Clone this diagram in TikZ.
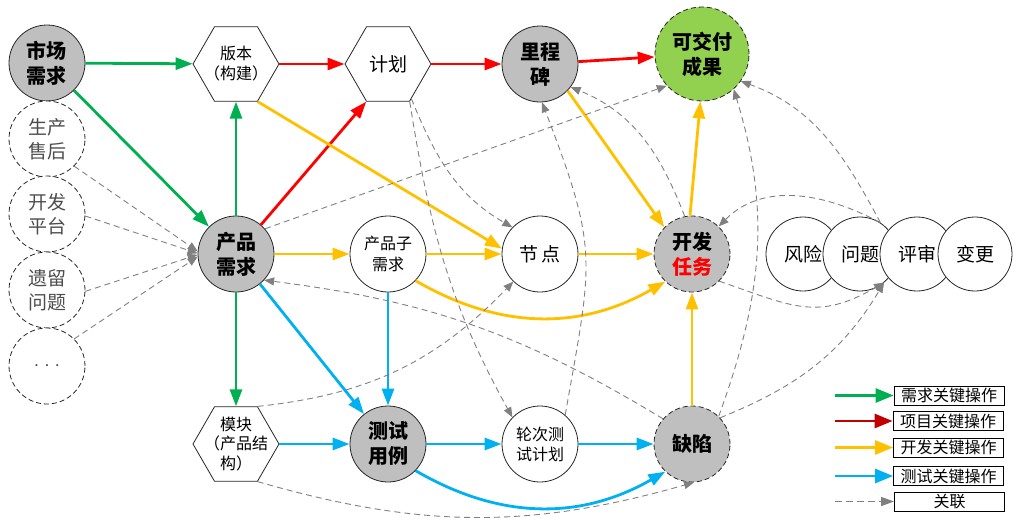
\documentclass[tikz,border=0pt]{standalone}
\usepackage{fontspec}
\setmainfont{Noto Sans CJK SC}
\usetikzlibrary{arrows.meta,shapes.geometric}
\definecolor{ngray}{HTML}{BFBFBF}
\definecolor{ngreen}{HTML}{92D050}
\definecolor{cG}{HTML}{00B050}
\definecolor{cR}{HTML}{FF0000}
\definecolor{cRd}{HTML}{C00000}
\definecolor{cY}{HTML}{FFC000}
\definecolor{cB}{HTML}{00B0F0}
\definecolor{cK}{HTML}{808080}
\definecolor{txtg}{HTML}{4D4D4D}
\begin{document}
\begin{tikzpicture}[x=1pt,y=1pt,
 base/.style={circle,minimum size=76pt,inner sep=0pt,align=center,draw=black!85,line width=0.8pt},
 gnode/.style={base,fill=ngray,font=\fontsize{20}{25}\selectfont\bfseries},
 wnode/.style={base,fill=white,font=\fontsize{19}{24}\selectfont},
 dnode/.style={base,fill=white,dash pattern=on 5pt off 3pt,text=txtg,font=\fontsize{19}{24}\selectfont},
 dashb/.style={dash pattern=on 5pt off 3pt},
 hexnode/.style={regular polygon,regular polygon sides=6,minimum size=86pt,inner sep=0pt,draw=black!85,line width=0.8pt,fill=white},
 key/.style={line width=2.8pt,-{Triangle[length=17pt,width=12pt]}},
 rel/.style={draw=cK,line width=0.9pt,dash pattern=on 6pt off 4pt,-{Triangle[length=10pt,width=8pt]}},
 legbox/.style={draw,line width=0.8pt,minimum width=110pt,minimum height=19pt,inner sep=0pt,font=\fontsize{16}{18}\selectfont},
]
\useasboundingbox (0,0) rectangle (1036,-525);

% left column
\node[gnode] (sc) at (47,-63) {市场\\需求};
\node[dnode] (ss) at (47,-139) {生产\\售后};
\node[dnode] (kp) at (47,-214) {开发\\平台};
\node[dnode] (yl) at (47,-290) {遗留\\问题};
\node[dnode] (dd) at (47,-366) {\fontsize{16}{18}\selectfont .\hspace{6pt}.\hspace{6pt}.};

% top row
\node[hexnode,label={[align=center,font=\fontsize{16}{20}\selectfont]center:版本\\（构建）}] (bb) at (236,-64) {};
\node[hexnode,label={[font=\fontsize{19}{24}\selectfont]center:计划}] (jh) at (388,-64) {};
\node[gnode] (lc) at (540,-64) {里程\\碑};
\node[gnode,fill=ngreen,minimum size=94pt,dashb] (kj) at (702,-54) {可交付\\成果};

% middle row
\node[gnode] (cp) at (236,-254) {产品\\需求};
\node[wnode,font=\fontsize{16}{21}\selectfont] (zx) at (388,-254) {产品子\\需求};
\node[wnode] (jd) at (540,-254) {节\hspace{3pt}点};
\node[gnode,dashb] (kf) at (692,-254) {开发\\\textcolor{cR}{任务}};
\node[wnode,minimum size=74pt] (fx) at (803,-254) {风险};
\node[wnode,minimum size=74pt] (wt) at (860,-254) {问题};
\node[wnode,minimum size=74pt] (ps) at (917,-254) {评审};
\node[wnode,minimum size=74pt] (bg) at (975,-254) {变更};

% bottom row
\node[hexnode,label={[align=center,font=\fontsize{16}{19.5}\selectfont]center:模块\\（产品结\\构）}] (mk) at (236,-444) {};
\node[gnode] (cs) at (388,-444) {测试\\用例};
\node[wnode,font=\fontsize{16}{20}\selectfont] (lt) at (540,-444) {轮次测\\试计划};
\node[gnode,dashb] (qx) at (692,-444) {缺陷};

% green
\draw[key,cG] (sc) -- (bb);
\draw[key,cG] (sc) -- (cp);
\draw[key,cG] (cp) -- (bb);
\draw[key,cG] (cp) -- (mk);
% red
\draw[key,cR] (bb) -- (jh);
\draw[key,cR] (jh) -- (lc);
\draw[key,cR] (lc) -- (kj);
\draw[key,cR] (cp) -- (jh.240);
% yellow
\draw[key,cY] (bb.300) -- (jd.172);
\draw[key,cY] (cp) -- (zx);
\draw[key,cY] (zx) -- (jd);
\draw[key,cY] (jd) -- (kf);
\draw[key,cY] (zx.-44) to[bend right=30] (kf.-134);
\draw[key,cY] (lc.-44) -- (kf.136);
\draw[key,cY] (kf.93) -- (kj.-92);
\draw[key,cY] (qx) -- (kf);
% blue
\draw[key,cB] (cp) -- (cs);
\draw[key,cB] (zx) -- (cs);
\draw[key,cB] (mk) -- (cs);
\draw[key,cB] (cs) -- (lt);
\draw[key,cB] (lt) -- (qx);
\draw[key,cB] (cs.-44) to[bend right=30] (qx.-134);

% gray relations
\draw[rel] (ss.-45) -- (cp.176);
\draw[rel] (kp.-3) -- (cp.179);
\draw[rel] (yl.-2) -- (cp.181);
\draw[rel] (dd.45) -- (cp.184);
\draw[rel] (cp.41) -- (kj.222);
\draw[rel] (jh.-56) to[out=-68,in=150] (jd.136);
\draw[rel] (jh.-60) to[out=-81,in=119] (lt.136);
\draw[rel] (lt.49) to[out=80,in=-69,looseness=1.3] (lc.-87);
\draw[rel] (kf.101) to[out=111,in=-22] (lc.-37);
\draw[rel] (qx.46) to[out=70,in=-73] (kj.-48);
\draw[rel] (wt.57) to[out=118,in=-20] (kj.-35);
\draw[rel] (wt.57) to[out=152,in=45] (kf.46);
\draw[rel] (kf.-45) to[out=-19,in=-150,looseness=1.2] (wt.-50);
\draw[rel] (qx.43) to[out=22,in=-121] (wt.-50);
\draw[rel] (qx.139) to[bend right=12] (cp.-43);
\draw[rel] (mk.60) to[bend right=20] (jd.-134);
\draw[rel] (mk.-60) to[bend right=16] (qx.-87);

% legend
\node[legbox] (l1) at (949,-395.5) {需求关键操作};
\node[legbox] (l2) at (948,-421) {项目关键操作};
\node[legbox] (l3) at (948.5,-447.5) {开发关键操作};
\node[legbox] (l4) at (948.5,-476) {测试关键操作};
\node[legbox] (l5) at (949.5,-501.5) {关联};
\coordinate (a1) at (835,-395.5);
\coordinate (a2) at (835,-421);
\coordinate (a3) at (835,-447.5);
\coordinate (a4) at (835,-476);
\coordinate (a5) at (835,-501.5);
\draw[key,cG,-{Triangle[length=18pt,width=14pt]}] (a1) -- (l1.west);
\draw[key,cRd,-{Triangle[length=18pt,width=14pt]}] (a2) -- (l2.west);
\draw[key,cY,-{Triangle[length=18pt,width=14pt]}] (a3) -- (l3.west);
\draw[key,cB,-{Triangle[length=18pt,width=14pt]}] (a4) -- (l4.west);
\draw[rel,line width=1.2pt,dash pattern=on 7pt off 4pt,-{Triangle[length=13pt,width=9pt]}] (a5) -- (l5.west);
\end{tikzpicture}
\end{document}
